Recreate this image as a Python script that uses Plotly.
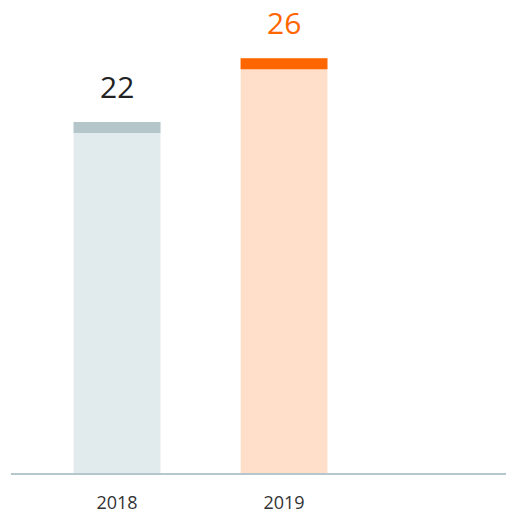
import plotly.graph_objects as go

years = ["2018", "2019"]
values = [22, 26]
fill_colors = ["#e1eaec", "#ffdfca"]
cap_colors = ["#b5c6cb", "#ff6600"]
label_colors = ["#222222", "#ff6600"]
cap_size = 0.69

xs = list(range(len(years)))

fig = go.Figure()
fig.add_trace(go.Bar(x=xs, y=values, marker=dict(color=fill_colors, line=dict(width=0)),
                     width=0.52, hoverinfo="skip"))
fig.add_trace(go.Bar(x=xs, y=[cap_size] * len(values), base=[v - cap_size for v in values],
                     marker=dict(color=cap_colors, line=dict(width=0)), width=0.52, hoverinfo="skip"))

for x, v, c in zip(xs, values, label_colors):
    fig.add_annotation(x=x, y=v, text=str(v), showarrow=False, yanchor="bottom", yshift=13,
                       font=dict(size=30, color=c, family="Open Sans"))

fig.update_layout(
    width=514, height=511,
    margin=dict(l=3, r=0, t=0, b=46),
    plot_bgcolor="white", paper_bgcolor="white",
    barmode="overlay", showlegend=False,
    font=dict(family="Open Sans", color="#333333"),
)
fig.update_xaxes(range=[-0.635, 2.425], tickvals=xs, ticktext=years, showgrid=False,
                 zeroline=False, showline=True, linecolor="#b4c7cc", linewidth=2,
                 ticks="", ticklabelstandoff=12, tickfont=dict(size=18, color="#333333"))
fig.update_yaxes(range=[0, 29.15], visible=False, showgrid=False, zeroline=False)

fig.write_html("out.html")
